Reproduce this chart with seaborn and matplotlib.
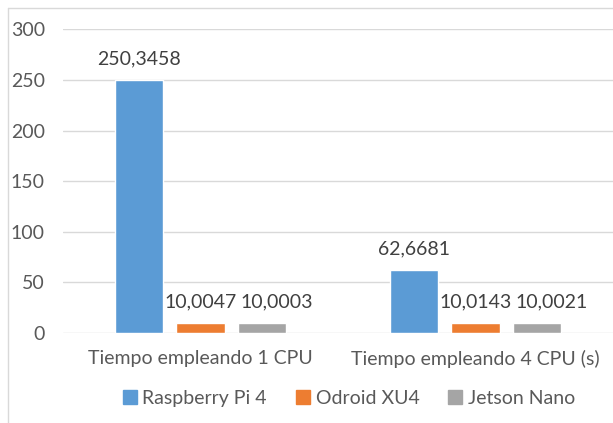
import pandas as pd
import seaborn as sns
import matplotlib.pyplot as plt
from matplotlib.lines import Line2D

# data
categories = ["Tiempo empleando 1 CPU", "Tiempo empleando 4 CPU (s)"]
devices = ["Raspberry Pi 4", "Odroid XU4", "Jetson Nano"]
raspberry = [250.3458, 62.6681]
odroid = [10.0047, 10.0143]
jetson = [10.0003, 10.0021]
colors = ["#5B9BD5", "#ED7D31", "#A5A5A5"]
yticks = [0, 50, 100, 150, 200, 250, 300]

rows = []
for dev, vals in zip(devices, [raspberry, odroid, jetson]):
    for cat, v in zip(categories, vals):
        rows.append({"categoria": cat, "dispositivo": dev, "tiempo": v})
df = pd.DataFrame(rows)

sns.set_style("white")
plt.rcParams['font.family'] = ['Lato', 'DejaVu Sans']
text_color = "#595959"
fs = 14

fig = plt.figure(figsize=(6.13, 4.23), dpi=100)
ax = fig.add_axes([0.1028, 0.2128, 0.8972, 0.7175])

sns.barplot(data=df, x="categoria", y="tiempo", hue="dispositivo",
            hue_order=devices, palette=colors, width=0.668, gap=0.215,
            saturation=1, errorbar=None, legend=False, ax=ax, zorder=3)

# labels of the grey bars were nudged right in the original
label_shift = [0, 0, 11]
for cont, dx in zip(ax.containers, label_shift):
    for b in cont:
        txt = f"{b.get_height():.4f}".replace(".", ",")
        ax.annotate(txt, (b.get_x() + b.get_width() / 2, b.get_height()),
                    xytext=(dx, 9), textcoords="offset points",
                    ha="center", va="bottom", fontsize=fs, color="#404040")

ax.set_xlim(-0.5, 1.5)
ax.set_ylim(0, 300)
ax.set_yticks(yticks)
ax.grid(axis="y", color="#D9D9D9", linewidth=1, zorder=0)
for s in ax.spines.values():
    s.set_visible(False)
ax.tick_params(axis="both", length=0, labelsize=fs, colors=text_color)
ax.tick_params(axis="y", pad=13)
ax.tick_params(axis="x", pad=12)
ax.set_xlabel("")
ax.set_ylabel("")

handles = [Line2D([0], [0], marker="s", linestyle="none", markersize=10,
                  markerfacecolor=c, markeredgecolor=c) for c in colors]
fig.legend(handles, devices, loc="center", bbox_to_anchor=(0.5686, 0.059),
           ncol=3, frameon=False, fontsize=fs, labelcolor=text_color,
           handletextpad=0.25, columnspacing=1.45, handlelength=0.8)

# light frame of the chart area (top and left edges visible)
fig.add_artist(Line2D([8 / 613, 1], [1 - 8.5 / 423, 1 - 8.5 / 423],
                      color="#D9D9D9", linewidth=1))
fig.add_artist(Line2D([8 / 613, 8 / 613], [0, 1 - 8.5 / 423],
                      color="#D9D9D9", linewidth=1))

plt.savefig("out.png", dpi=100)
